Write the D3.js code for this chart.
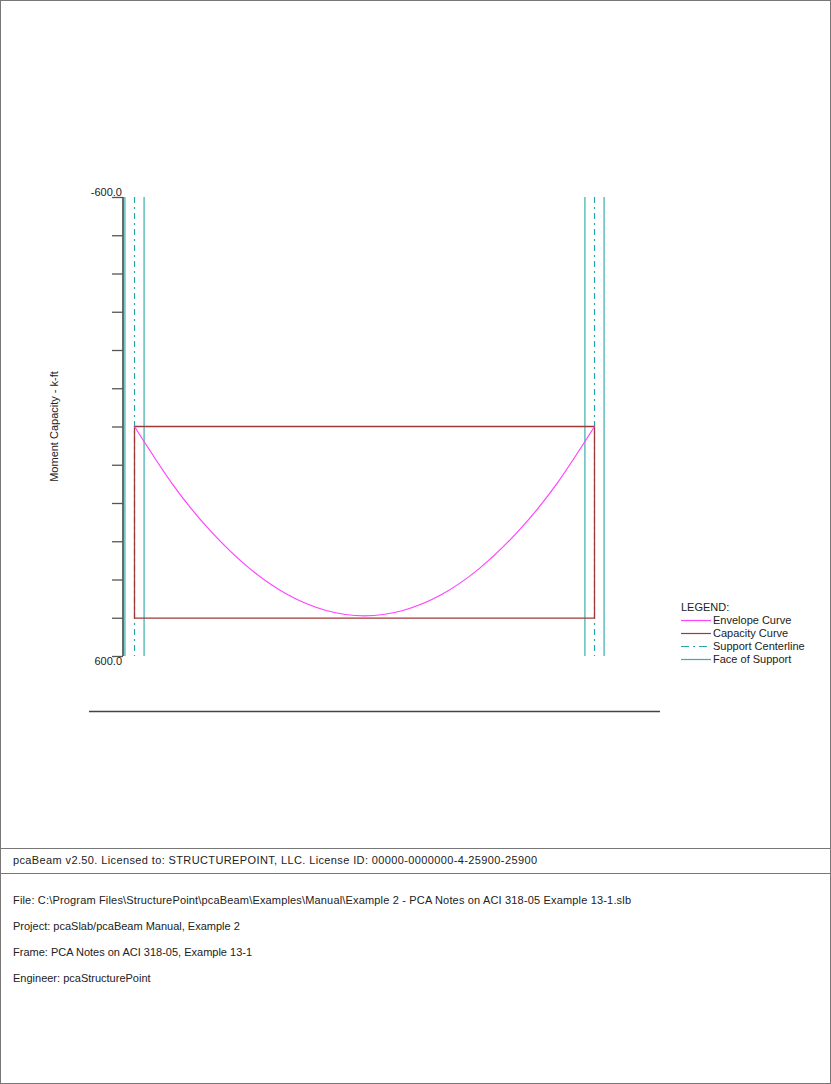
<!DOCTYPE html>
<html>
<head>
<meta charset="utf-8">
<script src="https://cdn.jsdelivr.net/npm/d3@7"></script>
<style>
  body { margin: 0; background: #fff; }
  svg text { font-family: "Liberation Sans", Arial, sans-serif; fill: #222; }
</style>
</head>
<body>
<div id="chart"></div>
<script>
// span in ft, moments in k-ft (positive = down)
const spanLen = 24
const colWidth = 12 / 12   // ft
const momentTicks = [-600, -500, -400, -300, -200, -100, 0, 100, 200, 300, 400, 500, 600]
const tickLabels = ["-600.0", "600.0"]

const envX = [0, 2, 4, 6, 8, 10, 12, 14, 16, 18, 20, 22, 24]
const envM = [0, 152, 275, 371, 440, 481, 495, 481, 440, 371, 275, 152, 0]

const capX = [0, 0, 24, 24, 0]
const capM = [0, 501, 501, 0, 0]

const legendItems = ["Envelope Curve", "Capacity Curve", "Support Centerline", "Face of Support"]
const footerLines = [
  "File: C:\\Program Files\\StructurePoint\\pcaBeam\\Examples\\Manual\\Example 2 - PCA Notes on ACI 318-05 Example 13-1.slb",
  "Project: pcaSlab/pcaBeam Manual, Example 2",
  "Frame: PCA Notes on ACI 318-05, Example 13-1",
  "Engineer: pcaStructurePoint"
]
const footerWidths = [618, null, null, null]
const licenseText = "pcaBeam v2.50. Licensed to: STRUCTUREPOINT, LLC. License ID: 00000-0000000-4-25900-25900"

const W = 831, H = 1084
const svg = d3.select("#chart").append("svg")
  .attr("width", W).attr("height", H)

// page frame
svg.append("rect").attr("x", 0.5).attr("y", 0.5).attr("width", W - 1).attr("height", H - 1)
  .attr("fill", "none").attr("stroke", "#777")
svg.append("line").attr("x1", 0).attr("x2", W).attr("y1", 848.5).attr("y2", 848.5).attr("stroke", "#777")
svg.append("line").attr("x1", 0).attr("x2", W).attr("y1", 873.5).attr("y2", 873.5).attr("stroke", "#777")

var x = d3.scaleLinear().domain([0, spanLen]).range([134.5, 594.5])
var y = d3.scaleLinear().domain([-600, 600]).range([197, 656])

var colors = { env: "#ff44ff", cap: "#a03a3a", cl: "#2aa5a5", face: "#3aadad" }

// support centerlines and faces
const supports = [0, spanLen]
supports.forEach(function (s) {
  svg.append("line")
    .attr("x1", x(s)).attr("x2", x(s)).attr("y1", y(-600)).attr("y2", y(600))
    .attr("stroke", colors.cl).attr("stroke-width", 1.2)
    .attr("stroke-dasharray", "6,4,2,4")
  ;[-colWidth / 2, colWidth / 2].forEach(function (o) {
    svg.append("line")
      .attr("x1", x(s + o)).attr("x2", x(s + o)).attr("y1", y(-600)).attr("y2", y(600))
      .attr("stroke", colors.face).attr("stroke-width", 1.2)
  })
})

// y axis
var axis = svg.append("g").attr("transform", "translate(123,0)")
  .call(d3.axisLeft(y).tickValues(momentTicks).tickSize(11).tickFormat(""))
axis.select(".domain").attr("stroke", "#6a6a6a").attr("stroke-width", 2)
  .attr("d", "M0," + y(-600) + "V" + y(600))
axis.selectAll(".tick line").attr("stroke", "#555").attr("stroke-width", 1.3)

svg.append("text").attr("x", 122).attr("y", 196).attr("text-anchor", "end")
  .style("font-size", "11px").text(tickLabels[0])
svg.append("text").attr("x", 122).attr("y", 665).attr("text-anchor", "end")
  .style("font-size", "11px").text(tickLabels[1])

svg.append("text")
  .attr("transform", "translate(58," + y(0) + ") rotate(-90)")
  .attr("text-anchor", "middle")
  .style("font-size", "11px")
  .text("Moment Capacity - k-ft")

// capacity curve
svg.append("path")
  .datum(capX.map(function (d, i) { return [d, capM[i]] }))
  .attr("fill", "none").attr("stroke", colors.cap).attr("stroke-width", 1.3)
  .attr("d", d3.line().x(function (d) { return x(d[0]) }).y(function (d) { return y(d[1]) }))

// envelope curve
svg.append("path")
  .datum(envX.map(function (d, i) { return [d, envM[i]] }))
  .attr("fill", "none").attr("stroke", colors.env).attr("stroke-width", 1.2)
  .attr("d", d3.line().curve(d3.curveNatural)
    .x(function (d) { return x(d[0]) }).y(function (d) { return y(d[1]) }))

// base line under the diagram
svg.append("line").attr("x1", 89).attr("x2", 660).attr("y1", 711.5).attr("y2", 711.5)
  .attr("stroke", "#444").attr("stroke-width", 1.5)

// legend
var lg = svg.append("g").attr("transform", "translate(681,611)")
lg.append("text").attr("x", 0).attr("y", 0).style("font-size", "11px").text("LEGEND:")
var legendStyles = [
  { c: colors.env, dash: null },
  { c: colors.cap, dash: null },
  { c: colors.cl, dash: "8,4,2,4" },
  { c: colors.face, dash: null }
]
legendItems.forEach(function (t, i) {
  var yy = 13 * (i + 1)
  lg.append("line").attr("x1", 0).attr("x2", 30).attr("y1", yy - 3.5).attr("y2", yy - 3.5)
    .attr("stroke", legendStyles[i].c).attr("stroke-width", 1.2)
    .attr("stroke-dasharray", legendStyles[i].dash)
  lg.append("text").attr("x", 32).attr("y", yy).style("font-size", "11px").text(t)
})

// footer
svg.append("text").attr("x", 13).attr("y", 864).style("font-size", "11px")
  .attr("textLength", 524).attr("lengthAdjust", "spacing").text(licenseText)
footerLines.forEach(function (t, i) {
  var tx = svg.append("text").attr("x", 13).attr("y", 904 + i * 26).style("font-size", "11px").text(t)
  if (footerWidths[i]) tx.attr("textLength", footerWidths[i]).attr("lengthAdjust", "spacing")
})
</script>
</body>
</html>
